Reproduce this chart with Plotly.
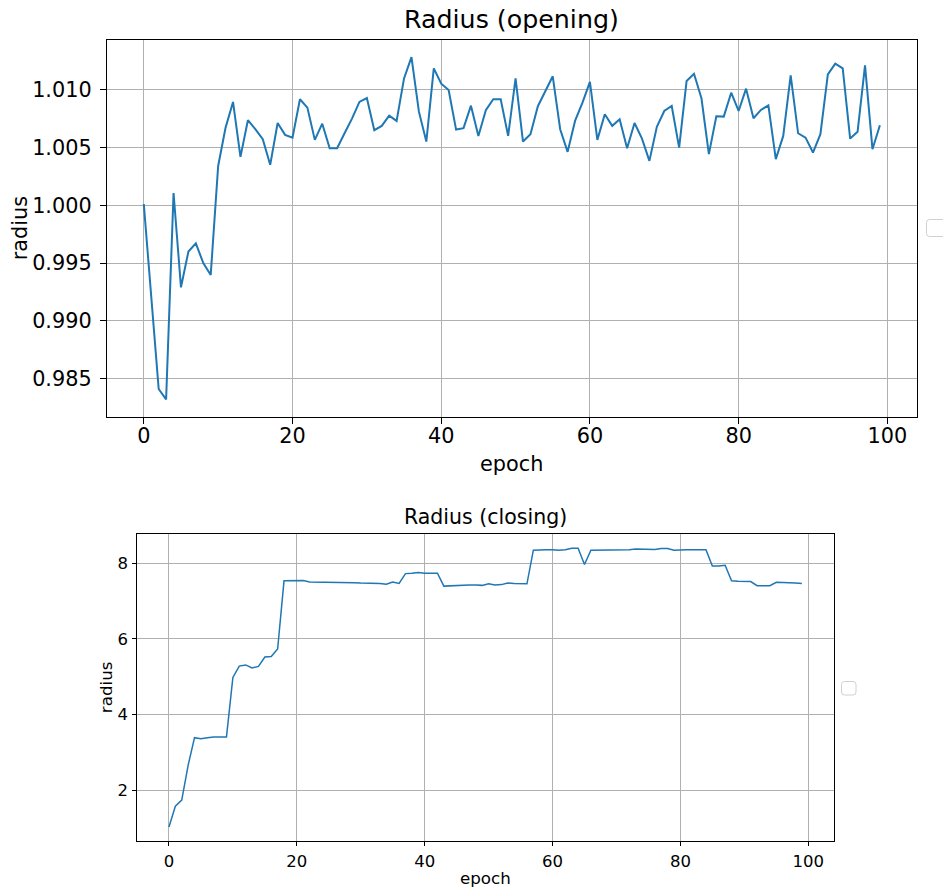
import plotly.graph_objects as go

# Training history: learned radius per epoch for the two morphology layers
epochs = list(range(100))

radius_opening = [
    1.0001, 0.9922, 0.9841, 0.9832, 1.00105, 0.9929, 0.9960, 0.9967, 0.9950, 0.99397,
    1.0034, 1.00672, 1.00894, 1.00419, 1.00736, 1.00658, 1.00572, 1.0035, 1.00712, 1.00609,
    1.00585, 1.00917, 1.00845, 1.00566, 1.00706, 1.00494, 1.00494, 1.00623, 1.0075, 1.00894,
    1.00928, 1.0065, 1.00687, 1.00776, 1.0073, 1.01098, 1.01282, 1.0081, 1.00551, 1.01185,
    1.01052, 1.00997, 1.00655, 1.00667, 1.00862, 1.0060, 1.00822, 1.00917, 1.00917, 1.0060,
    1.01098, 1.00551, 1.00615, 1.00857, 1.00983, 1.01116, 1.00658, 1.00462, 1.0073, 1.00888,
    1.01067, 1.00566, 1.00788, 1.00687, 1.00744, 1.00494, 1.00712, 1.00577, 1.00384, 1.00678,
    1.00816, 1.00859, 1.00499, 1.01075, 1.01138, 1.00926, 1.00442, 1.0077, 1.00767, 1.00974,
    1.00816, 1.01009, 1.00753, 1.00825, 1.00865, 1.00399, 1.0060, 1.01124, 1.00623, 1.00585,
    1.00456, 1.00615, 1.01133, 1.01225, 1.01185, 1.00577, 1.00637, 1.01211, 1.00485, 1.00693,
]

radius_closing = [
    1.03, 1.58, 1.74, 2.66, 3.39, 3.36, 3.39, 3.41, 3.41, 3.41,
    4.98, 5.28, 5.31, 5.23, 5.27, 5.52, 5.53, 5.73, 7.53, 7.53,
    7.53, 7.54, 7.50, 7.50, 7.49, 7.49, 7.49, 7.48, 7.48, 7.48,
    7.47, 7.47, 7.47, 7.46, 7.44, 7.50, 7.46, 7.72, 7.73, 7.75,
    7.73, 7.73, 7.73, 7.39, 7.40, 7.41, 7.41, 7.42, 7.42, 7.41,
    7.45, 7.42, 7.43, 7.47, 7.46, 7.45, 7.45, 8.34, 8.35, 8.35,
    8.35, 8.34, 8.35, 8.39, 8.39, 7.96, 8.34, 8.34, 8.34, 8.35,
    8.35, 8.35, 8.35, 8.37, 8.37, 8.36, 8.36, 8.38, 8.38, 8.34,
    8.35, 8.35, 8.35, 8.35, 8.35, 7.92, 7.92, 7.94, 7.53, 7.52,
    7.52, 7.51, 7.40, 7.40, 7.40, 7.49, 7.49, 7.49, 7.47, 7.46,
]

x_ticks = [0, 20, 40, 60, 80, 100]
opening_y_ticks = [0.985, 0.990, 0.995, 1.000, 1.005, 1.010]
closing_y_ticks = [2, 4, 6, 8]

W, H = 943, 893
BLUE = "#1f77b4"
FONT = "DejaVu Sans"


def px_x(v):
    return v / W


def px_y(v):
    return 1 - v / H


def padded(vals, frac=0.05):
    lo, hi = min(vals), max(vals)
    pad = (hi - lo) * frac
    return [lo - pad, hi + pad]


x_range = padded(epochs)

fig = go.Figure()
fig.add_trace(go.Scatter(x=epochs, y=radius_opening, mode="lines",
                         line=dict(color=BLUE, width=2), xaxis="x", yaxis="y",
                         showlegend=False))
fig.add_trace(go.Scatter(x=epochs, y=radius_closing, mode="lines",
                         line=dict(color=BLUE, width=1.5), xaxis="x2", yaxis="y2",
                         showlegend=False))

# panel boxes in pixels: (left, top, right, bottom)
top_box = (107, 40, 916.7, 416.5)
bot_box = (137.3, 534.3, 833.5, 841)


def axis_common(size, lw, tlen):
    return dict(showline=True, mirror=True, linecolor="black", linewidth=lw,
                showgrid=True, gridcolor="#b0b0b0", gridwidth=1,
                ticks="outside", ticklen=tlen, tickwidth=lw, tickcolor="black",
                tickfont=dict(family=FONT, size=size, color="black"),
                zeroline=False)


fig.update_layout(
    width=W, height=H, autosize=False,
    margin=dict(l=0, r=0, t=0, b=0),
    paper_bgcolor="white", plot_bgcolor="white",
    showlegend=False,
    xaxis=dict(domain=[px_x(top_box[0]), px_x(top_box[2])], range=x_range,
               tickvals=x_ticks, anchor="y", ticklabelstandoff=-6,
               **axis_common(20.8, 1.3, 6)),
    yaxis=dict(domain=[px_y(top_box[3]), px_y(top_box[1])],
               range=padded(radius_opening), tickvals=opening_y_ticks,
               tickformat=".3f", anchor="x", ticklabelstandoff=4,
               **axis_common(20.8, 1.3, 6)),
    xaxis2=dict(domain=[px_x(bot_box[0]), px_x(bot_box[2])], range=x_range,
                tickvals=x_ticks, anchor="y2", ticklabelstandoff=1,
                **axis_common(16.5, 1, 4)),
    yaxis2=dict(domain=[px_y(bot_box[3]), px_y(bot_box[1])],
                range=padded(radius_closing), tickvals=closing_y_ticks,
                anchor="x2", ticklabelstandoff=1,
                **axis_common(16.5, 1, 4)),
)

# titles and axis labels
texts = [
    ("Radius (opening)", (top_box[0] + top_box[2]) / 2, 36, "center", "bottom", 0, 25.3),
    ("epoch", (top_box[0] + top_box[2]) / 2, 450, "center", "top", 0, 20.8),
    ("radius", 20, (top_box[1] + top_box[3]) / 2, "center", "middle", -90, 20.8),
    ("Radius (closing)", (bot_box[0] + bot_box[2]) / 2, 531, "center", "bottom", 0, 20.5),
    ("epoch", (bot_box[0] + bot_box[2]) / 2, 866, "center", "top", 0, 16.7),
    ("radius", 105.5, (bot_box[1] + bot_box[3]) / 2, "center", "middle", -90, 16.7),
]
for txt, x, y, xa, ya, ang, size in texts:
    fig.add_annotation(text=txt, x=px_x(x), y=px_y(y), xref="paper", yref="paper",
                       xanchor=xa, yanchor=ya, textangle=ang, showarrow=False,
                       font=dict(family=FONT, size=size, color="black"))


# empty legend frames beside each panel
def rounded_rect(x0, y0, x1, y1, r):
    X = lambda v: px_x(v)
    Y = lambda v: px_y(v)
    return (f"M {X(x0 + r)} {Y(y0)} L {X(x1 - r)} {Y(y0)} Q {X(x1)} {Y(y0)} {X(x1)} {Y(y0 + r)} "
            f"L {X(x1)} {Y(y1 - r)} Q {X(x1)} {Y(y1)} {X(x1 - r)} {Y(y1)} "
            f"L {X(x0 + r)} {Y(y1)} Q {X(x0)} {Y(y1)} {X(x0)} {Y(y1 - r)} "
            f"L {X(x0)} {Y(y0 + r)} Q {X(x0)} {Y(y0)} {X(x0 + r)} {Y(y0)} Z")


for box in [(926.5, 219.5, 948, 236.5), (841.5, 681.5, 856, 695)]:
    fig.add_shape(type="path", path=rounded_rect(*box, 3), xref="paper", yref="paper",
                  line=dict(color="#d0d0d0", width=1), fillcolor="rgba(255,255,255,0.8)")

fig.write_html("out.html")
